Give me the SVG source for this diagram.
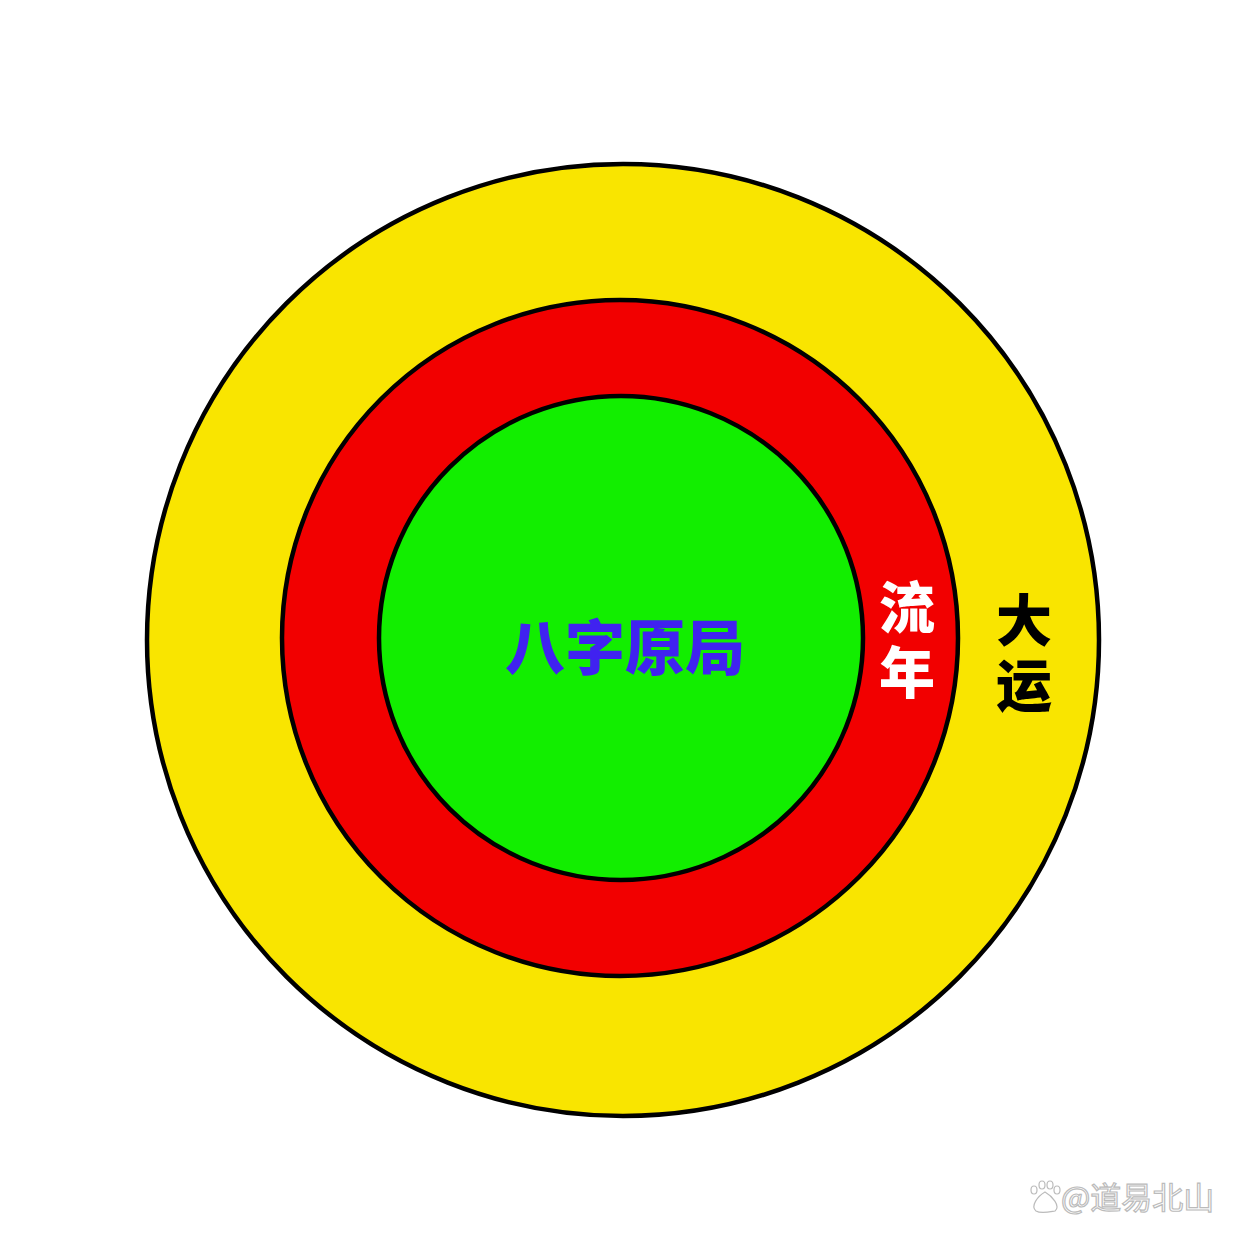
<svg xmlns="http://www.w3.org/2000/svg" width="1242" height="1242" viewBox="0 0 1242 1242">
<style>
.ring{stroke:#000;stroke-width:4.5}
.t{font-family:"Noto Sans CJK SC","Noto Sans CJK JP",sans-serif;font-weight:900}
.v{writing-mode:vertical-rl;letter-spacing:9px}
.wm{font-family:"Noto Sans CJK SC",sans-serif;font-size:31px;fill:#fff;stroke:#bbb;stroke-width:1.2}
</style>
<rect width="1242" height="1242" fill="#fff"/>
<g id="dayun"><circle class="ring" cx="623" cy="640" r="476" fill="#f9e500"/>
<text class="t v" x="1024" y="592" font-size="56" fill="#000">大运</text></g>
<g id="liunian"><circle class="ring" cx="620" cy="638" r="338" fill="#f20000"/>
<text class="t v" x="907" y="579" font-size="56" fill="#fff">流年</text></g>
<g id="bazi"><circle class="ring" cx="621" cy="638" r="242" fill="#12ee00"/>
<text class="t" x="625" y="643" font-size="60" fill="#4022f0" text-anchor="middle" dominant-baseline="central">八字原局</text></g>
<g id="watermark">
<g fill="#fff" stroke="#bbb" stroke-width="1.2">
<ellipse cx="1034" cy="1190" rx="3" ry="4"/><ellipse cx="1042" cy="1185" rx="3" ry="4"/><ellipse cx="1050" cy="1185" rx="3" ry="4"/><ellipse cx="1057" cy="1190" rx="3" ry="4"/>
<path d="M1045 1192 C1038 1196 1030 1206 1036 1211 C1041 1214 1049 1212 1055 1211 C1061 1206 1052 1196 1045 1192 Z"/>
</g>
<text class="wm" x="1061" y="1209">@道易北山</text>
</g>
</svg>
